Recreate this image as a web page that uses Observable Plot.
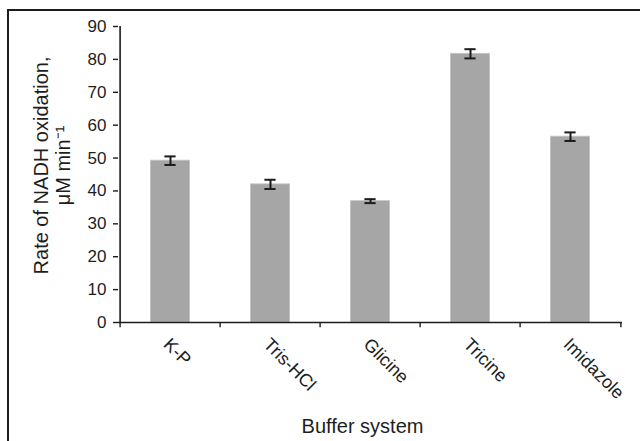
<!DOCTYPE html>
<html>
<head>
<meta charset="utf-8">
<script src="https://cdn.jsdelivr.net/npm/d3@7"></script>
<script src="https://cdn.jsdelivr.net/npm/@observablehq/plot@0.6"></script>
<style>
  html, body { margin: 0; padding: 0; background: #fff; overflow: hidden; }
  #wrap { position: relative; width: 640px; height: 441px; overflow: hidden; }
  #border { position: absolute; left: 7px; top: 9px; width: 800px; height: 600px;
            border-top: 2px solid #1c1c1c; border-left: 2px solid #1c1c1c; }
  #chart { position: absolute; left: 0; top: 0; }
</style>
</head>
<body>
<div id="wrap"><div id="border"></div><div id="chart"></div></div>
<script>
// Buffer systems and the measured NADH oxidation rates (µM min⁻¹) with their errors
const buffers = ["K-P", "Tris-HCl", "Glicine", "Tricine", "Imidazole"];
const rates = [49.2, 42.0, 36.9, 81.7, 56.5];
const errors = [1.3, 1.4, 0.6, 1.4, 1.3];
const yTicks = [0, 10, 20, 30, 40, 50, 60, 70, 80, 90];
const yTitle = "Rate of NADH oxidation,\nμM min\u207B\u00B9";
const xTitle = "Buffer system";

const rows = buffers.map((b, i) => ({buffer: b, rate: rates[i], err: errors[i]}));

const W = 640, H = 441;
const mL = 118, mR = 18, mT = 26, mB = 119;
const step = (W - mL - mR) / buffers.length;
const font = "'Liberation Sans', Arial, sans-serif";
const ink = "#1c1c1c";

const chart = Plot.plot({
  width: W,
  height: H,
  marginLeft: mL,
  marginRight: mR,
  marginTop: mT,
  marginBottom: mB,
  style: {fontFamily: font, background: "transparent", overflow: "visible"},
  x: {domain: buffers, padding: 0, axis: null},
  y: {domain: [0, 90], axis: null},
  marks: [
    // bars
    Plot.barY(rows, {x: "buffer", y: "rate", fill: "#a6a6a6", stroke: "#c4c4c4", strokeWidth: 0.8, insetLeft: 30.4, insetRight: 30.4}),
    // error bars
    Plot.ruleX(rows, {x: "buffer", y1: d => d.rate - d.err, y2: d => d.rate + d.err, stroke: ink, strokeWidth: 2}),
    Plot.tickY(rows, {x: "buffer", y: d => d.rate + d.err, stroke: ink, strokeWidth: 2, insetLeft: 44.4, insetRight: 44.4}),
    Plot.tickY(rows, {x: "buffer", y: d => d.rate - d.err, stroke: ink, strokeWidth: 2, insetLeft: 44.4, insetRight: 44.4}),
    // y axis line and ticks
    Plot.ruleX([buffers[0]], {y1: 0, y2: 90, dx: -step / 2, stroke: ink, strokeWidth: 1.6}),
    Plot.axisY(yTicks, {
      anchor: "left", tickSize: 5, tickPadding: 7, fontSize: 17, stroke: ink, strokeWidth: 1.4,
      fill: "#1e1e1e", label: null, tickFormat: d => d
    }),
    // x axis line and category boundary ticks
    Plot.ruleY([0], {stroke: ink, strokeWidth: 1.6}),
    Plot.ruleX(buffers, {x: d => d, y1: 0, y2: -1.6, dx: -step / 2, stroke: ink, strokeWidth: 1.4}),
    Plot.ruleX([buffers[buffers.length - 1]], {y1: 0, y2: -1.6, dx: step / 2, stroke: ink, strokeWidth: 1.4}),
    // rotated category labels
    Plot.text(buffers, {
      x: d => d, y: () => 0, text: d => d, rotate: 45, textAnchor: "start", lineAnchor: "top",
      dx: 1, dy: 14, fontSize: 18, fill: "#1e1e1e"
    }),
    // axis titles
    Plot.text([yTitle], {
      frameAnchor: "left", text: d => d, rotate: -90, textAnchor: "middle", lineAnchor: "middle",
      dx: -67, dy: -9, fontSize: 20, lineHeight: 1.1, fill: "#1e1e1e"
    }),
    Plot.text([xTitle], {
      frameAnchor: "bottom", text: d => d, textAnchor: "middle", lineAnchor: "middle",
      dx: -8, dy: 104, fontSize: 20, fill: "#1e1e1e"
    })
  ]
});

document.getElementById("chart").appendChild(chart);
</script>
</body>
</html>
